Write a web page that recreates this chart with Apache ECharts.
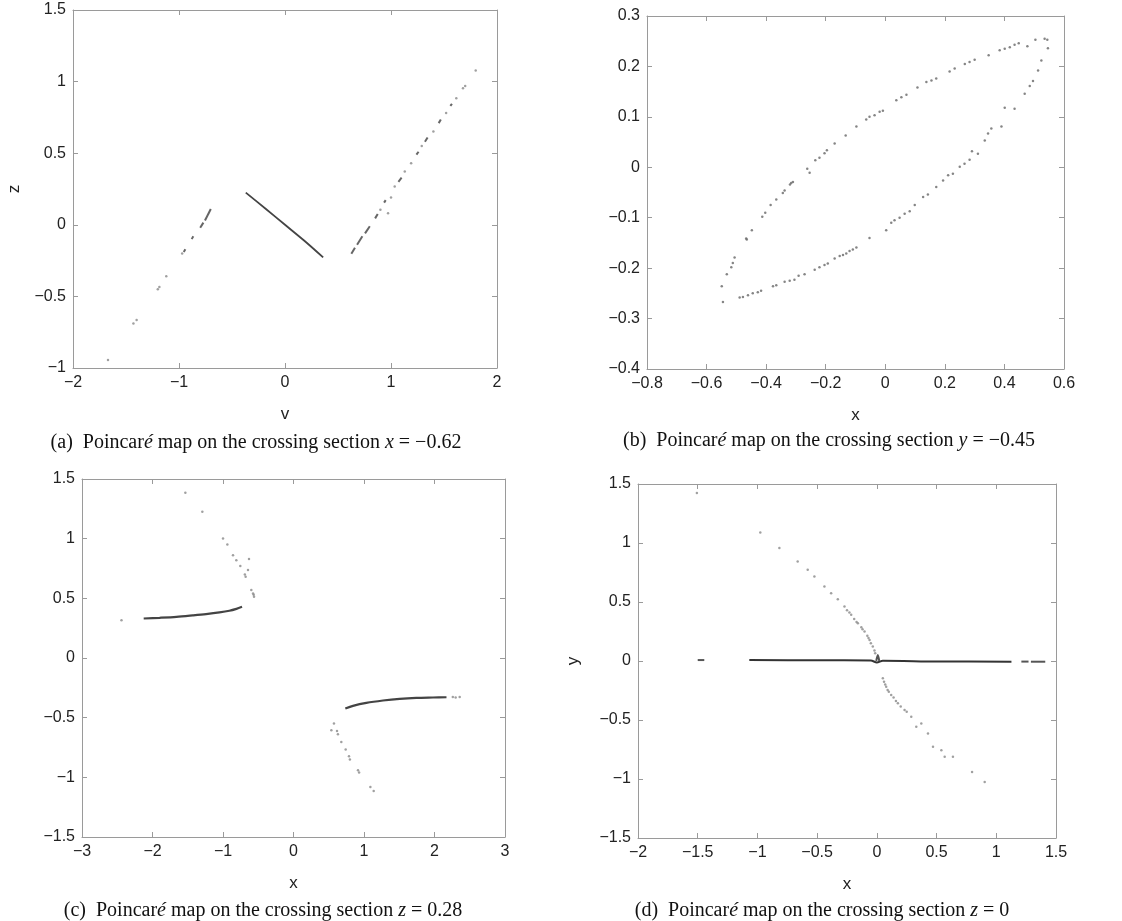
<!DOCTYPE html>
<html>
<head>
<meta charset="utf-8">
<script src="https://cdn.jsdelivr.net/npm/echarts@6/dist/echarts.min.js"></script>
<style>
  html, body { margin: 0; padding: 0; background: #fff; }
  #chart { width: 1122px; height: 921px; }
</style>
</head>
<body>
<div id="chart"></div>
<script>
// ---------- Panel (a): section x = -0.62, axes v / z ----------
const A_LINE = [[-0.37, 0.225], [-0.18, 0.11], [0, 0], [0.18, -0.11], [0.36, -0.228]];
const A_DASHES = [
  [[-0.80, -0.02], [-0.77, 0.015]],
  [[-0.755, 0.03], [-0.70, 0.11]],
  [[-0.88, -0.10], [-0.865, -0.08]],
  [[-0.955, -0.19], [-0.94, -0.17]],
  [[0.626, -0.202], [0.66, -0.16]],
  [[0.68, -0.14], [0.73, -0.08]],
  [[0.755, -0.06], [0.80, -0.01]],
  [[0.85, 0.045], [0.875, 0.075]],
  [[0.935, 0.155], [0.95, 0.172]],
  [[1.07, 0.30], [1.10, 0.33]],
  [[1.24, 0.49], [1.26, 0.51]],
  [[1.32, 0.58], [1.345, 0.61]],
  [[1.45, 0.71], [1.47, 0.735]],
  [[1.56, 0.83], [1.575, 0.845]]
];
const A_DOTS = [
  [-1.67, -0.945], [-1.43, -0.69], [-1.40, -0.665], [-1.20, -0.45], [-1.185, -0.435],
  [-1.12, -0.36], [-0.97, -0.20], [0.972, 0.081], [0.90, 0.105], [1.035, 0.267],
  [1.13, 0.372], [1.19, 0.43], [1.29, 0.55], [1.40, 0.651], [1.52, 0.78],
  [1.616, 0.884], [1.679, 0.953], [1.70, 0.97], [1.799, 1.077], [1.0, 0.19]
];

// ---------- Panel (b): section y = -0.45, axes x / (z) ----------
const B_UPPER = [
  [-0.549, -0.236], [-0.532, -0.212], [-0.517, -0.198], [-0.512, -0.190], [-0.506, -0.179],
  [-0.467, -0.141], [-0.465, -0.143], [-0.448, -0.125], [-0.413, -0.098], [-0.403, -0.090],
  [-0.385, -0.075], [-0.366, -0.064], [-0.344, -0.051], [-0.338, -0.046], [-0.316, -0.031],
  [-0.310, -0.029], [-0.320, -0.034], [-0.262, -0.003], [-0.254, -0.011], [-0.235, 0.014],
  [-0.221, 0.019], [-0.204, 0.028], [-0.196, 0.034], [-0.170, 0.047], [-0.133, 0.063],
  [-0.097, 0.081], [-0.064, 0.095], [-0.053, 0.100], [-0.036, 0.103], [-0.019, 0.110],
  [-0.008, 0.112], [0.037, 0.133], [0.054, 0.139], [0.071, 0.144], [0.108, 0.158],
  [0.138, 0.169], [0.155, 0.172], [0.171, 0.176], [0.216, 0.190], [0.233, 0.196],
  [0.267, 0.205], [0.283, 0.209], [0.300, 0.213], [0.347, 0.222], [0.384, 0.232],
  [0.401, 0.235], [0.418, 0.238], [0.434, 0.243], [0.448, 0.246], [0.477, 0.240],
  [0.504, 0.253], [0.535, 0.255], [0.544, 0.253], [0.546, 0.236]
];
const B_LOWER = [
  [-0.545, -0.267], [-0.489, -0.258], [-0.478, -0.257], [-0.461, -0.254], [-0.445, -0.250],
  [-0.428, -0.248], [-0.417, -0.245], [-0.377, -0.236], [-0.366, -0.234], [-0.338, -0.227],
  [-0.321, -0.225], [-0.305, -0.223], [-0.291, -0.215], [-0.271, -0.212], [-0.237, -0.203],
  [-0.221, -0.198], [-0.204, -0.194], [-0.193, -0.191], [-0.170, -0.181], [-0.153, -0.176],
  [-0.142, -0.174], [-0.131, -0.171], [-0.120, -0.166], [-0.109, -0.163], [-0.097, -0.159],
  [-0.053, -0.140], [0.003, -0.125], [0.020, -0.110], [0.031, -0.105], [0.048, -0.100],
  [0.065, -0.092], [0.082, -0.087], [0.099, -0.075], [0.127, -0.059], [0.143, -0.054],
  [0.171, -0.039], [0.194, -0.026], [0.211, -0.016], [0.227, -0.013], [0.250, 0.001],
  [0.266, 0.007], [0.283, 0.015], [0.291, 0.032], [0.311, 0.027], [0.334, 0.053],
  [0.345, 0.067], [0.356, 0.077], [0.390, 0.081], [0.401, 0.118], [0.434, 0.116],
  [0.468, 0.146], [0.485, 0.161], [0.496, 0.171], [0.513, 0.192], [0.524, 0.212]
];

// ---------- Panel (c): section z = 0.28, axes x / (y) ----------
const C_ARC_LEFT = [[-2.125, 0.331], [-1.9, 0.337], [-1.66, 0.345], [-1.43, 0.357], [-1.24, 0.368],
  [-1.05, 0.382], [-0.91, 0.396], [-0.81, 0.412], [-0.73, 0.429]];
const C_ARC_RIGHT = [[0.735, -0.424], [0.844, -0.401], [1.033, -0.376], [1.27, -0.356], [1.506, -0.342],
  [1.742, -0.334], [1.979, -0.331], [2.17, -0.329]];
const C_DOTS = [
  [-2.44, 0.317], [-0.56, 0.513], [-0.565, 0.53], [-0.574, 0.541], [-0.598, 0.569],
  [-0.645, 0.737], [-0.631, 0.829], [-0.679, 0.681], [-0.69, 0.70], [-0.754, 0.77],
  [-0.811, 0.82], [-0.858, 0.862], [-0.938, 0.951], [-1.0, 1.002], [-1.293, 1.226],
  [-1.534, 1.385], [2.26, -0.327], [2.357, -0.326], [2.30, -0.33],
  [0.537, -0.605], [0.574, -0.549], [0.617, -0.611], [0.63, -0.64], [0.678, -0.703],
  [0.740, -0.767], [0.787, -0.823], [0.80, -0.85], [0.915, -0.941], [0.93, -0.96],
  [1.09, -1.081], [1.137, -1.114]
];

// ---------- Panel (d): section z = 0, axes x / y ----------
const D_LINE = [[-1.068, 0.008], [-0.5, 0.006], [-0.05, 0.004], [0, -0.012], [0.05, 0.002],
  [0.5, -0.004], [1.127, -0.006]];
const D_DASHES = [
  [[-1.50, 0.008], [-1.445, 0.008]],
  [[1.21, -0.005], [1.27, -0.005]],
  [[1.29, -0.006], [1.41, -0.006]],
  [[-0.005, 0.0], [0.008, 0.05], [0.02, 0.0]]
];
const D_DOTS = [
  [-1.507, 1.424], [-0.976, 1.090], [-0.816, 0.957], [-0.663, 0.843], [-0.579, 0.773],
  [-0.523, 0.716], [-0.439, 0.631], [-0.383, 0.575], [-0.327, 0.524], [-0.271, 0.461],
  [-0.25, 0.43], [-0.23, 0.41], [-0.215, 0.391], [-0.19, 0.355], [-0.17, 0.33],
  [-0.159, 0.320], [-0.13, 0.285], [-0.12, 0.27], [-0.103, 0.249], [-0.08, 0.215],
  [-0.07, 0.195], [-0.061, 0.178], [-0.05, 0.15], [-0.034, 0.122], [-0.02, 0.09],
  [-0.014, 0.065],
  [0.050, -0.147], [0.06, -0.175], [0.07, -0.20], [0.078, -0.218], [0.09, -0.245],
  [0.10, -0.26], [0.120, -0.289], [0.14, -0.31], [0.16, -0.34], [0.176, -0.359],
  [0.20, -0.385], [0.232, -0.416], [0.25, -0.43], [0.288, -0.473], [0.330, -0.558],
  [0.372, -0.529], [0.428, -0.614], [0.470, -0.727], [0.540, -0.756], [0.568, -0.812],
  [0.637, -0.812], [0.797, -0.940], [0.903, -1.025]
];

// ---------- Axis ranges / labels ----------
const GRIDS = [
  { left: 73, top: 10, width: 424, height: 358 },
  { left: 647, top: 16, width: 417, height: 353 },
  { left: 82, top: 479, width: 423, height: 358 },
  { left: 638, top: 484, width: 418, height: 354 }
];
const X_RANGES = [[-2, 2, 1], [-0.8, 0.6, 0.2], [-3, 3, 1], [-2, 1.5, 0.5]];
const Y_RANGES = [[-1, 1.5, 0.5], [-0.4, 0.3, 0.1], [-1.5, 1.5, 0.5], [-1.5, 1.5, 0.5]];
const X_NAMES = ['v', 'x', 'x', 'x'];
const Y_NAMES = ['z', '', '', 'y'];
const Y_NAME_GAPS = [50, 50, 50, 56];
const CAPTIONS = [
  { label: '(a)', text: 'Poincar{it|é} map on the crossing section {it|x} = −0.62', cx: 251, top: 428 },
  { label: '(b)', text: 'Poincar{it|é} map on the crossing section {it|y} = −0.45', cx: 824, top: 426 },
  { label: '(c)', text: 'Poincar{it|é} map on the crossing section {it|z} = 0.28', cx: 258, top: 896 },
  { label: '(d)', text: 'Poincar{it|é} map on the crossing section {it|z} = 0', cx: 817, top: 896 }
];

const SANS = 'Liberation Sans, Arial, Helvetica, sans-serif';
const SERIF = 'Liberation Serif, Times New Roman, serif';
const FRAME = '#9a9a9a';

function fmt(v) {
  const s = String(Number(v.toFixed(3)));
  return s.replace('-', '\u2212');
}

const xAxes = [], yAxes = [];
GRIDS.forEach((g, i) => {
  xAxes.push({
    gridIndex: i, type: 'value', position: 'bottom',
    min: X_RANGES[i][0], max: X_RANGES[i][1], interval: X_RANGES[i][2],
    name: X_NAMES[i], nameLocation: 'middle', nameGap: 38,
    nameTextStyle: { fontFamily: SANS, fontSize: 17, color: '#222' },
    axisLine: { show: true, onZero: false, lineStyle: { color: FRAME, width: 1 } },
    axisTick: { show: true, inside: true, length: 5, lineStyle: { color: FRAME } },
    axisLabel: { show: true, margin: 7, fontFamily: SANS, fontSize: 16, color: '#222', formatter: fmt },
    splitLine: { show: false }
  });
  yAxes.push({
    gridIndex: i, type: 'value', position: 'left',
    min: Y_RANGES[i][0], max: Y_RANGES[i][1], interval: Y_RANGES[i][2],
    name: Y_NAMES[i], nameLocation: 'middle', nameGap: Y_NAME_GAPS[i],
    nameTextStyle: { fontFamily: SANS, fontSize: 17, color: '#222' },
    axisLine: { show: true, onZero: false, lineStyle: { color: FRAME, width: 1 } },
    axisTick: { show: true, inside: true, length: 5, lineStyle: { color: FRAME } },
    axisLabel: { show: true, margin: 7, fontFamily: SANS, fontSize: 16, color: '#222', formatter: fmt },
    splitLine: { show: false }
  });
});
GRIDS.forEach((g, i) => {
  xAxes.push({
    gridIndex: i, type: 'value', position: 'top',
    min: X_RANGES[i][0], max: X_RANGES[i][1], interval: X_RANGES[i][2],
    axisLine: { show: true, onZero: false, lineStyle: { color: FRAME, width: 1 } },
    axisTick: { show: true, inside: true, length: 5, lineStyle: { color: FRAME } },
    axisLabel: { show: false }, splitLine: { show: false }
  });
  yAxes.push({
    gridIndex: i, type: 'value', position: 'right',
    min: Y_RANGES[i][0], max: Y_RANGES[i][1], interval: Y_RANGES[i][2],
    axisLine: { show: true, onZero: false, lineStyle: { color: FRAME, width: 1 } },
    axisTick: { show: true, inside: true, length: 5, lineStyle: { color: FRAME } },
    axisLabel: { show: false }, splitLine: { show: false }
  });
});

const series = [];
function addLine(i, data, width, color) {
  series.push({
    type: 'line', xAxisIndex: i, yAxisIndex: i, data: data,
    symbol: 'none', smooth: 0.3, silent: true, animation: false,
    lineStyle: { width: width, color: color }
  });
}
function addDots(i, data, size, color) {
  series.push({
    type: 'scatter', xAxisIndex: i, yAxisIndex: i, data: data,
    symbol: 'circle', symbolSize: size, silent: true, animation: false,
    itemStyle: { color: color }
  });
}

addLine(0, A_LINE, 1.8, '#444');
A_DASHES.forEach(d => addLine(0, d, 2, '#666'));
addDots(0, A_DOTS, 2.5, '#888');
addDots(1, B_UPPER, 2.5, '#666');
addDots(1, B_LOWER, 2.5, '#666');
addLine(2, C_ARC_LEFT, 2.2, '#444');
addLine(2, C_ARC_RIGHT, 2.2, '#444');
addDots(2, C_DOTS, 2.5, '#888');
addLine(3, D_LINE, 2, '#333');
D_DASHES.forEach(d => addLine(3, d, 2, '#555'));
addDots(3, D_DOTS, 2.5, '#888');

const titles = CAPTIONS.map(c => ({
  text: c.label + '\u2002' + c.text,
  left: c.cx, top: c.top, textAlign: 'center',
  textStyle: {
    fontFamily: SERIF, fontSize: 20, fontWeight: 'normal', color: '#111',
    rich: { it: { fontFamily: SERIF, fontSize: 20, fontStyle: 'italic', color: '#111' } }
  }
}));

const chart = echarts.init(document.getElementById('chart'), null, { renderer: 'canvas' });
chart.setOption({
  backgroundColor: '#fff',
  animation: false,
  title: titles,
  grid: GRIDS.map(g => Object.assign({ containLabel: false }, g)),
  xAxis: xAxes,
  yAxis: yAxes,
  series: series
});
</script>
</body>
</html>
